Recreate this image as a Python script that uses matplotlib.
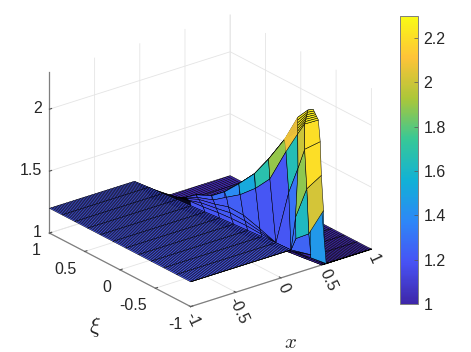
import numpy as np
import matplotlib
matplotlib.use("Agg")
import matplotlib.pyplot as plt
from matplotlib.colors import LinearSegmentedColormap, Normalize
from matplotlib.cm import ScalarMappable

plt.rcParams['font.family'] = ['Liberation Sans', 'DejaVu Sans']
plt.rcParams['mathtext.fontset'] = 'cm'

# --- colormap ---
parula_rgb = [(.2422, .1504, .6603), (.2810, .3228, .9579), (.1786, .5289, .9682), (.0689, .6948, .8394),
              (.2161, .7843, .5923), (.6720, .7793, .2227), (.9970, .7659, .2199), (.9769, .9839, .0805)]

# --- surface values ---
z_left = 1.2      # plateau on the left
z_right = 1.0     # floor on the right
# nodes from the plateau edge up to the ridge, one row per mesh line
node_x = [
    [-.06, -.005, .05, .10, .13, .16],
    [-.04, .01, .065, .11, .145, .17],
    [-.03, .02, .075, .115, .155, .18],
    [-.01, .04, .095, .14, .175, .20],
    [.005, .06, .11, .16, .195, .22],
    [.02, .075, .13, .175, .21, .237],
    [.04, .085, .13, .175, .22, .265],
    [.055, .10, .15, .20, .265, .289],
    [.07, .107, .144, .193, .278, .315],
    [.085, .106, .126, .15, .305, .344],
    [.10, .10, .10, .10, .33, .37],
    [.11, .11, .11, .25, .36, .40],
    [.11, .18, .20, .29, .38, .42],
    [.33, .33, .34, .34, .38, .44],
    [.48, .478, .47, .465, .46, .45],
]
node_xi = [
    [1, 1, 1, 1, 1, 1],
    [.82, .85, .875, .90, .92, .93],
    [.64, .69, .745, .79, .825, .85],
    [.46, .53, .605, .67, .715, .75],
    [.28, .365, .45, .525, .58, .62],
    [.10, .20, .30, .39, .45, .50],
    [-.08, 0, .08, .16, .24, .32],
    [-.26, -.17, -.09, 0, .11, .17],
    [-.44, -.374, -.308, -.22, -.066, 0],
    [-.62, -.585, -.55, -.51, -.25, -.185],
    [-.80, -.80, -.80, -.80, -.42, -.35],
    [-1, -1, -1, -.79, -.61, -.54],
    [-1, -.98, -.95, -.87, -.75, -.70],
    [-1, -.97, -.93, -.90, -.85, -.82],
    [-1, -.99, -.97, -.96, -.94, -.88],
]
node_z = [
    [1.2, 1.16, 1.10, 1.06, 1.02, 1.00],
    [1.2, 1.17, 1.12, 1.07, 1.03, 1.02],
    [1.2, 1.18, 1.13, 1.09, 1.06, 1.05],
    [1.2, 1.19, 1.15, 1.12, 1.09, 1.08],
    [1.2, 1.20, 1.17, 1.15, 1.13, 1.12],
    [1.2, 1.20, 1.19, 1.18, 1.17, 1.17],
    [1.2, 1.21, 1.21, 1.21, 1.21, 1.21],
    [1.2, 1.21, 1.22, 1.23, 1.26, 1.28],
    [1.2, 1.21, 1.22, 1.23, 1.33, 1.39],
    [1.2, 1.205, 1.21, 1.215, 1.43, 1.52],
    [1.2, 1.2, 1.2, 1.2, 1.55, 1.68],
    [1.2, 1.2, 1.2, 1.57, 1.82, 1.89],
    [1.2, 1.27, 1.43, 1.78, 2.00, 2.11],
    [1.11, 1.27, 1.62, 1.93, 2.11, 2.20],
    [1.07, 1.43, 1.71, 1.98, 2.15, 2.22],
]
floor_xi = [1, .82, .64, .46, .28, .10, -.08, -.26, -.44, -.62, -.80, -1, -1, -1, -1]
cliff_x = [.19, .20, .21, .23, .25, .27, .295, .32, .345, .375, .40, .43, .45, .47, .50]
flat_end_x = [-.06, -.04, -.03, -.01, .005, .02, .04, .055, .07, .085, .10, .11, .11, .11, .11]
# colour level of the big front facets, as seen in the picture (per gap between the last rows)
front_levels = [
    [1.3, 1.3, 1.3, 1.65, 2.08],
    [1.25, 1.62, 1.88, 2.00, 2.25],
    [1.45, 2.02, 2.20, 2.20, 2.25],
]
cliff_level = 1.45

x_tick_vals = [-1, -.5, 0, .5, 1]
x_tick_text = ['-1', '-0.5', '0', '0.5', '1']
xi_tick_vals = [-1, -.5, 0, .5, 1]
xi_tick_text = ['-1', '-0.5', '0', '0.5', '1']
z_tick_vals = [1, 1.5, 2]
z_tick_text = ['1', '1.5', '2']
cbar_tick_vals = [1, 1.2, 1.4, 1.6, 1.8, 2, 2.2]
cbar_tick_text = ['1', '1.2', '1.4', '1.6', '1.8', '2', '2.2']
z_min, z_max = 1.0, 2.3

parula = LinearSegmentedColormap.from_list('parula_like', parula_rgb, N=256)
norm = Normalize(z_min, z_max)

# --- mesh: dense plateau + spokes + refined peak + cliff + dense floor ---
n_flat, n_floor, n_peak = 50, 26, 5
rows = len(node_x)
X, Y, Z = [], [], []
for i in range(rows):
    frac = np.linspace(0, 1, n_peak + 2)[1:-1] if i >= rows - 3 else np.ones(n_peak)
    peak = lambda a: np.r_[a[:5], a[4] + frac * (a[5] - a[4]), a[5]]
    fx = np.linspace(-1, flat_end_x[i], n_flat, endpoint=False)
    gx = np.linspace(cliff_x[i] + .02, 1, n_floor)
    X.append(np.r_[fx, peak(node_x[i]), cliff_x[i], gx])
    Y.append(np.r_[np.full(n_flat, node_xi[i][0]), peak(node_xi[i]), node_xi[i][-1] if i < rows - 1 else -1,
                   np.full(n_floor, floor_xi[i])])
    Z.append(np.r_[np.full(n_flat, z_left), peak(node_z[i]), z_right, np.full(n_floor, z_right)])
X, Y, Z = np.array(X), np.array(Y), np.array(Z)

# face colours: facets take the low corner, except ridge caps and the front facets
low = np.minimum.reduce([Z[:-1, :-1], Z[1:, :-1], Z[:-1, 1:], Z[1:, 1:]])
high = np.maximum.reduce([Z[:-1, :-1], Z[1:, :-1], Z[:-1, 1:], Z[1:, 1:]])
levels = low.copy()
cap0, cap1 = n_flat + 4, n_flat + 5 + n_peak
levels[:, cap0:cap1] = high[:, cap0:cap1]
for g, row in enumerate(front_levels):
    r = rows - 4 + g
    for c, v in enumerate(row[:4]):
        levels[r, n_flat + c] = v
    levels[r, cap0:cap1] = row[4]
levels[rows - 2, cap1] = cliff_level
face = parula(norm(levels))
face[:4, n_flat:cap1] = (0.03, 0.03, 0.12, 1)  # back-facing ramp is nearly black in the picture

edges = np.tile((0, 0, 0, 1.0), (face.shape[0], face.shape[1], 1))
edges[rows - 4, cap0:cap1] = face[rows - 4, cap0:cap1]  # orange cap facet has no inner lines

W, H = 471, 352
fig = plt.figure(figsize=(W / 100, H / 100), dpi=100)
cx, cy, side = 205, 166, 400
ax = fig.add_axes([(cx - side / 2) / W, (H - cy - side / 2) / H, side / W, side / H], projection='3d', proj_type='ortho')
ax.patch.set_alpha(0)
ax.view_init(elev=24, azim=-128)
ax.set_box_aspect((229, 229, 176), zoom=0.896)
ax.set_xlim(-1, 1, view_margin=0)
ax.set_ylim(-1, 1, view_margin=0)
ax.set_zlim(z_min, z_max, view_margin=0)

surf = ax.plot_surface(X, Y, Z, rcount=X.shape[0], ccount=X.shape[1], facecolors=face,
                       edgecolor='k', linewidth=0.35, antialiased=True, shade=False)
surf.set_edgecolor(edges.reshape(-1, 4))

for axis in (ax.xaxis, ax.yaxis, ax.zaxis):
    axis.set_pane_color((1, 1, 1, 0))
    axis.pane.set_edgecolor((1, 1, 1, 0))
    axis.line.set_color('#7f7f7f')
    axis.line.set_linewidth(0.9)
    axis._axinfo['grid'].update(color='#e4e4e4', linewidth=0.6)
    axis._axinfo['tick'].update(inward_factor=0.0, outward_factor=0.15)

ax.set_xticks(x_tick_vals, x_tick_text)
ax.set_yticks(xi_tick_vals, xi_tick_text)
ax.set_zticks(z_tick_vals, z_tick_text)
ax.tick_params(axis='both', labelsize=11.5, labelcolor='#262626', color='#555555', width=0.5)
ax.tick_params(axis='x', labelrotation=-65, pad=-6)
ax.tick_params(axis='y', pad=-1)
ax.tick_params(axis='z', pad=-4.5)
for t in ax.get_yticklabels():
    t.set_ha('right')
for t in ax.get_zticklabels():
    t.set_ha('right')
    t.set_va('center')

ax.text2D(290 / W, 1 - 342 / H, '$x$', fontsize=15, color='#262626', ha='center', va='center', transform=fig.transFigure)
ax.text2D(95 / W, 1 - 327 / H, r'$\xi$', fontsize=16, color='#262626', ha='center', va='center', transform=fig.transFigure)

# colour bar
cax = fig.add_axes([400 / W, (H - 304) / H, 18 / W, 288 / H])
cb = fig.colorbar(ScalarMappable(norm, parula), cax=cax)
cb.set_ticks(cbar_tick_vals, labels=cbar_tick_text)
cb.ax.tick_params(labelsize=11.5, labelcolor='#262626', direction='in', length=3, width=0.5, color='#555555', pad=4)
cb.outline.set_edgecolor('#7f7f7f')
cb.outline.set_linewidth(0.7)

fig.savefig('out.png', dpi=100)
